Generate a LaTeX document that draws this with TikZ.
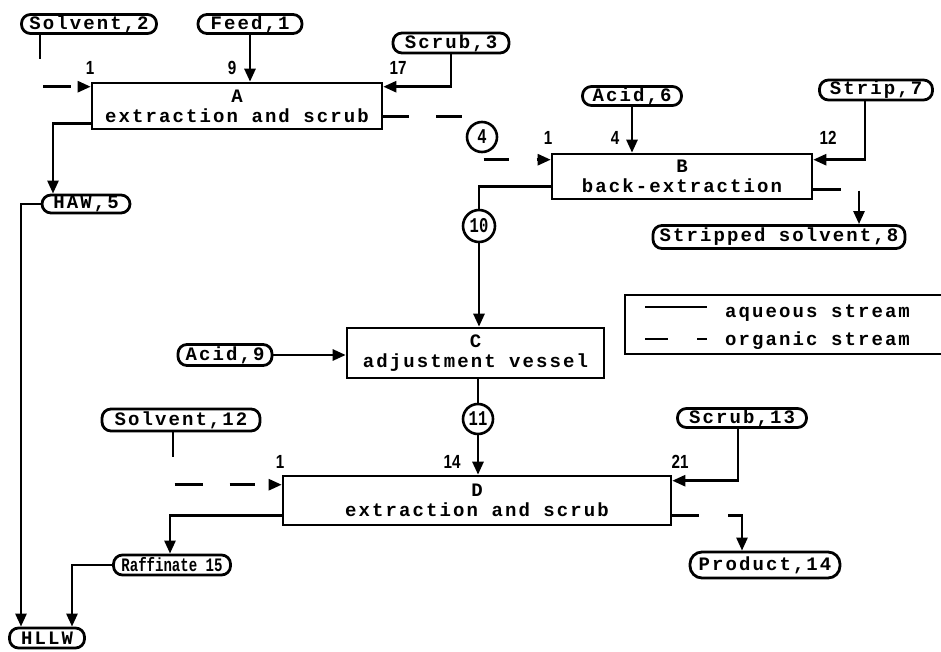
\documentclass[tikz,border=0pt]{standalone}
\usepackage{fontspec}
\newfontfamily\tw[LetterSpace=11]{Liberation Mono}
\newfontfamily\twn[FakeStretch=0.74]{Liberation Mono}
\newfontfamily\numf[FakeStretch=0.8]{Liberation Sans}
\usetikzlibrary{arrows.meta}

\begin{document}
\begin{tikzpicture}[x=1pt,y=-1pt,
  every node/.style={inner sep=0pt},
  txt/.style={font=\tw\bfseries\fontsize{19}{20}\selectfont},
  pill/.style={txt,draw,line width=2.8pt,rounded corners=9pt,minimum height=19pt},
  unit/.style={txt,draw,line width=2.6pt,align=center},
  tag/.style={circle,draw,line width=2.6pt,minimum size=30pt,font=\twn\bfseries\fontsize{21}{21}\selectfont},
  port/.style={font=\numf\bfseries\fontsize{19}{19}\selectfont},
  pipe/.style={line width=2.6pt},
  flow/.style={pipe,-{Triangle[length=13pt,width=11pt]}},
  orgpipe/.style={pipe,dash pattern=on 26pt off 27pt},
]
\useasboundingbox (0,0) rectangle (941,652);

% process units
\node[unit,minimum width=290pt,minimum height=46pt] (A) at (237,106) {A\\extraction and scrub};
\node[unit,minimum width=260pt,minimum height=45pt] (B) at (682,176.5) {B\\back-extraction};
\node[unit,minimum width=257pt,minimum height=50pt] (C) at (475.5,353) {C\\adjustment vessel};
\node[unit,minimum width=388pt,minimum height=49pt] (D) at (477,500.5) {D\\extraction and scrub};

% feed and product streams
\node[pill,minimum width=135pt] (solv2) at (89,24) {Solvent,2};
\node[pill,minimum width=104pt] (feed) at (250,24) {Feed,1};
\node[pill,minimum width=116pt,minimum height=20pt] (scrub3) at (451,43) {Scrub,3};
\node[pill,minimum width=99pt] (acid6) at (632,96) {Acid,6};
\node[pill,minimum width=113pt,minimum height=20pt] (strip7) at (876,90) {Strip,7};
\node[pill,minimum width=252pt,minimum height=23pt] (strsolv) at (779,237) {Stripped solvent,8};
\node[pill,minimum width=88pt,minimum height=18pt] (haw) at (86,204) {HAW,5};
\node[pill,minimum width=94pt,minimum height=21pt] (acid9) at (225,355) {Acid,9};
\node[pill,minimum width=158pt,minimum height=22pt] (solv12) at (181,420) {Solvent,12};
\node[pill,minimum width=129pt] (scrub13) at (742,418) {Scrub,13};
\node[pill,minimum width=117pt,minimum height=20pt,font=\twn\bfseries\fontsize{19}{20}\selectfont] (raff) at (172,565) {Raffinate 15};
\node[pill,minimum width=150pt,minimum height=26pt,rounded corners=12pt] (prod) at (765,565) {Product,14};
\node[pill,minimum width=75pt,minimum height=20pt] (hllw) at (47,638) {HLLW};

% intermediate stream tags
\node[tag] (t4) at (482,137) {4};
\node[tag,minimum size=32pt] (t10) at (479,226) {10};
\node[tag] (t11) at (478,419) {11};

% stage numbers at the feed points
\node[port] (pA1) at (90,68) {1};
\node[port] (pA9) at (232,68) {9};
\node[port] (pA17) at (398,68) {17};
\node[port] (pB1) at (548,138) {1};
\node[port] (pB4) at (615,138) {4};
\node[port] (pB12) at (828,138) {12};
\node[port] (pD1) at (280,462) {1};
\node[port] (pD14) at (452,462) {14};
\node[port] (pD21) at (680,462) {21};

% unit A
\draw[flow,dash pattern=on 24pt off 31pt on 28pt off 30pt]
  ([xshift=-49pt]solv2.south) |- ([yshift=-5pt]A.north west);
\draw[flow] (feed.south) -- (feed.south |- A.north);
\draw[flow] (scrub3.south) |- ([yshift=-5pt]A.north east);
\draw[flow] ([yshift=7pt]A.south west) -| ([xshift=-33pt]haw.north);
\draw[orgpipe] ([yshift=14pt]A.south east) -| (t4.north);

% unit B
\draw[flow,dash pattern=on 0pt off 8pt on 25pt off 28pt on 40pt]
  (t4.south) |- ([yshift=-7pt]B.north west);
\draw[flow] (acid6.south) -- (acid6.south |- B.north);
\draw[flow] ([xshift=-11pt]strip7.south) |- ([yshift=-7pt]B.north east);
\draw[flow,dash pattern=on 28pt off 19pt on 60pt]
  ([yshift=11pt]B.south east) -| ([xshift=80pt]strsolv.north);
\draw[pipe] ([yshift=14pt]B.south west) -| (t10.north);

% unit C
\draw[flow] (t10.south) -- (t10.south |- C.north);
\draw[flow] (acid9.east) -- (acid9.east -| C.west);
\draw[pipe] (t11.north |- C.south) -- (t11.north);

% unit D
\draw[flow] (t11.south) -- (t11.south |- D.north);
\draw[flow,dash pattern=on 25pt off 29pt on 28pt off 27pt]
  ([xshift=-8pt]solv12.south) |- ([yshift=-10pt]D.north west);
\draw[flow] ([xshift=-4pt]scrub13.south) |- ([yshift=-6pt]D.north east);
\draw[flow] ([yshift=11pt]D.south west) -| ([xshift=-2pt]raff.north);
\draw[flow,dash pattern=on 27pt off 29pt on 60pt]
  ([yshift=11pt]D.south east) -| ([xshift=-23pt]prod.north);

% high-level liquid waste
\draw[flow] (haw.west) -| ([xshift=-26pt]hllw.north);
\draw[flow] (raff.west) -| ([xshift=25pt]hllw.north);

% legend
\coordinate (lgnw) at (625,295);
\coordinate (lgsw) at (625,354);
\draw[line width=2.6pt] (941,295) -- (lgnw) -- (lgsw) -- (941,354);
\coordinate (aq1) at (645,307);
\coordinate (aq2) at (707,307);
\draw[pipe] (aq1) -- (aq2);
\coordinate (or1) at (645,339);
\coordinate (or2) at (707,339);
\draw[pipe,dash pattern=on 23pt off 29pt on 10pt] (or1) -- (or2);
\node[txt,anchor=west] (laq) at (725,313) {aqueous stream};
\node[txt,anchor=west] (lor) at (725,341) {organic stream};
\end{tikzpicture}
\end{document}
